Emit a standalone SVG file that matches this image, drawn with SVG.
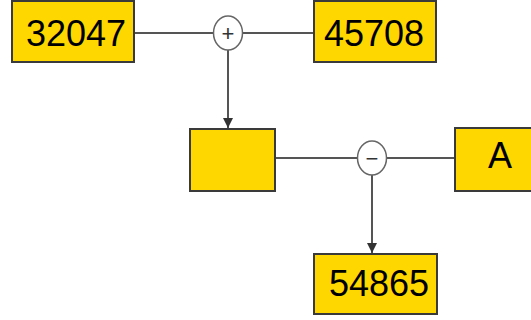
<svg xmlns="http://www.w3.org/2000/svg" width="531" height="320" viewBox="0 0 531 320">
<style>
.box{fill:#FFD700;stroke:#3a3a3a;stroke-width:2}
.lbl{font-family:"Liberation Sans",Arial,sans-serif;font-size:36px;fill:#000;text-anchor:middle}
.op{fill:#fff;stroke:#666;stroke-width:1.5}
.opt{font-family:"Liberation Sans",Arial,sans-serif;font-size:22px;fill:#333;text-anchor:middle}
.ln{stroke:#555;stroke-width:2;fill:none}
</style>
<defs>
<marker id="ah" viewBox="0 0 10 10" refX="10" refY="5" markerWidth="5" markerHeight="5" orient="auto">
<path d="M0,0L10,5L0,10z" fill="#333"/>
</marker>
</defs>
<rect width="531" height="320" fill="#fff"/>
<g id="connectors">
<line class="ln" x1="134" y1="33" x2="314" y2="33"/>
<line class="ln" x1="228" y1="50" x2="228" y2="128" marker-end="url(#ah)"/>
<line class="ln" x1="275" y1="158" x2="455" y2="158"/>
<line class="ln" x1="372" y1="175" x2="372" y2="253" marker-end="url(#ah)"/>
</g>
<g id="n1"><rect class="box" x="12" y="1" width="122" height="61"/><text class="lbl" x="76" y="46">32047</text></g>
<g id="n2"><rect class="box" x="314" y="1" width="122" height="61"/><text class="lbl" x="374" y="46">45708</text></g>
<g id="plus"><ellipse class="op" cx="228" cy="33" rx="14.5" ry="17"/><text class="opt" x="228" y="40.5">+</text></g>
<g id="n3"><rect class="box" x="190" y="129" width="85" height="62"/></g>
<g id="minus"><ellipse class="op" cx="372" cy="158" rx="14.5" ry="17"/><text class="opt" x="372" y="165.5">−</text></g>
<g id="nA"><rect class="box" x="455" y="128" width="80" height="63"/><text class="lbl" x="500" y="168">A</text></g>
<g id="n5"><rect class="box" x="314" y="254" width="123" height="60"/><text class="lbl" x="379" y="296">54865</text></g>
</svg>
